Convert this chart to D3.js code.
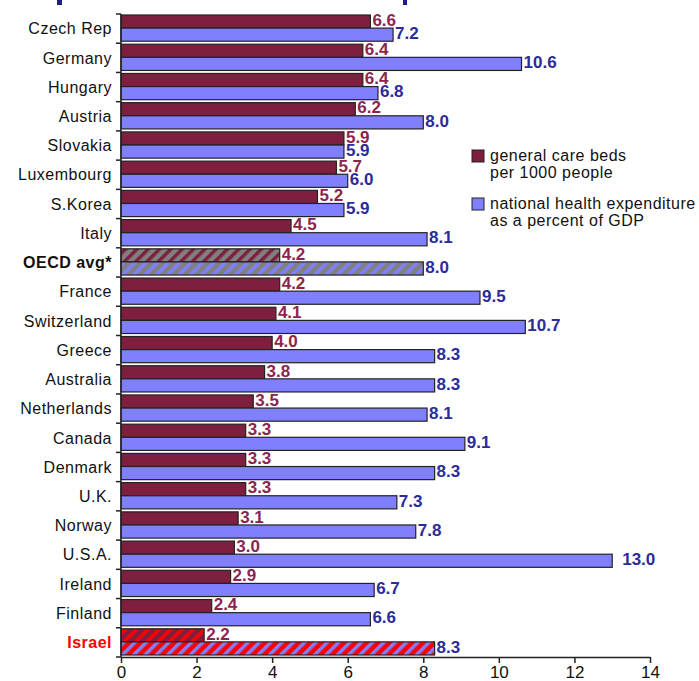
<!DOCTYPE html>
<html>
<head>
<meta charset="utf-8">
<script src="https://cdn.jsdelivr.net/npm/d3@7"></script>
<style>
  body { margin: 0; background: #fff; }
  svg { display: block; }
  .cat { font-family: "Liberation Sans", Arial, sans-serif; font-size: 16px; letter-spacing: 0.5px; fill: #111; }
  .val { font-family: "Liberation Sans Narrow", "Arial Narrow", sans-serif; font-weight: bold; font-size: 17px; }
  .legend { font-family: "Liberation Sans", Arial, sans-serif; font-size: 16px; letter-spacing: 0.5px; fill: #111; }
  .x-axis text { font-family: "Liberation Sans Narrow", "Arial Narrow", sans-serif; font-size: 17px; fill: #111; }
</style>
</head>
<body>
<svg></svg>
<script>
var width = 699;
var height = 681;

var countries = ["Czech Rep", "Germany", "Hungary", "Austria", "Slovakia", "Luxembourg",
  "S.Korea", "Italy", "OECD avg*", "France", "Switzerland", "Greece", "Australia",
  "Netherlands", "Canada", "Denmark", "U.K.", "Norway", "U.S.A.", "Ireland", "Finland", "Israel"];
var beds = [6.6, 6.4, 6.4, 6.2, 5.9, 5.7, 5.2, 4.5, 4.2, 4.2, 4.1, 4.0, 3.8, 3.5, 3.3, 3.3,
  3.3, 3.1, 3.0, 2.9, 2.4, 2.2];
var gdp = [7.2, 10.6, 6.8, 8.0, 5.9, 6.0, 5.9, 8.1, 8.0, 9.5, 10.7, 8.3, 8.3, 8.1, 9.1, 8.3,
  7.3, 7.8, 13.0, 6.7, 6.6, 8.3];
var xTicks = [0, 2, 4, 6, 8, 10, 12, 14];
var legendLabels = [["general care beds", "per 1000 people"],
  ["national health expenditure", "as a percent of GDP"]];

var padding = { top: 14, right: 49, bottom: 24, left: 121 };

var svg = d3.select("svg").attr("width", width).attr("height", height);

var rows = countries.map(function(c, i) {
  return { name: c, beds: beds[i], gdp: gdp[i] };
});

var xScale = d3.scaleLinear()
  .domain([0, 14])
  .range([padding.left, width - padding.right]);

var yScale = d3.scaleBand()
  .domain(countries)
  .range([padding.top, height - padding.bottom]);

var inner = d3.scaleBand()
  .domain(["beds", "gdp"])
  .range([1, yScale.bandwidth() - 2]);

var colors = { beds: "#7f1f3f", gdp: "#8080ff" };
var labelColors = { beds: "#8b2550", gdp: "#2b2b99" };

// hatch patterns for OECD avg and Israel
var defs = svg.append("defs");
function hatch(id, bg, stripe) {
  var p = defs.append("pattern")
    .attr("id", id)
    .attr("patternUnits", "userSpaceOnUse")
    .attr("width", 8)
    .attr("height", 8)
    .attr("patternTransform", "rotate(45)");
  p.append("rect").attr("width", 8).attr("height", 8).attr("fill", bg);
  p.append("rect").attr("width", 3.5).attr("height", 8).attr("fill", stripe);
}
hatch("oecd-beds", "#808080", "#7f1f3f");
hatch("oecd-gdp", "#808080", "#8080ff");
hatch("isr-beds", "#7f1f3f", "#ff0000");
hatch("isr-gdp", "#ff0000", "#8080ff");

function fillFor(d, key) {
  if (d.name === "OECD avg*") return "url(#oecd-" + key + ")";
  if (d.name === "Israel") return "url(#isr-" + key + ")";
  return colors[key];
}

// remnants of the cropped title
svg.append("rect").attr("x", 57).attr("y", 0).attr("width", 5).attr("height", 5).attr("fill", "#1e1e80");
svg.append("rect").attr("x", 403).attr("y", 0).attr("width", 4).attr("height", 5).attr("fill", "#1e1e80");

var groups = svg.selectAll("g.row")
  .data(rows)
  .enter()
  .append("g")
  .attr("class", "row")
  .attr("transform", d => "translate(0," + yScale(d.name) + ")");

["beds", "gdp"].forEach(function(key) {
  groups.append("rect")
    .attr("x", xScale(0))
    .attr("y", inner(key))
    .attr("width", d => xScale(d[key]) - xScale(0))
    .attr("height", inner.bandwidth())
    .attr("fill", d => fillFor(d, key))
    .attr("stroke", "#222")
    .attr("stroke-width", 1.2);

  groups.append("text")
    .attr("class", "val")
    .attr("x", d => xScale(d[key]) + (d[key] >= 13 ? 10 : 2))
    .attr("y", inner(key) + inner.bandwidth() / 2)
    .attr("dy", "0.25em")
    .attr("fill", labelColors[key])
    .text(d => d[key].toFixed(1));
});

// category labels
groups.append("text")
  .attr("class", "cat")
  .attr("x", padding.left - 9)
  .attr("y", yScale.bandwidth() / 2)
  .attr("dy", "0.36em")
  .attr("text-anchor", "end")
  .style("font-weight", d => (d.name === "OECD avg*" || d.name === "Israel") ? "bold" : null)
  .style("fill", d => d.name === "Israel" ? "#ff0000" : null)
  .text(d => d.name);

// y axis with ticks between categories
var yAxis = svg.append("g").attr("class", "y-axis");
yAxis.append("line")
  .attr("x1", xScale(0)).attr("x2", xScale(0))
  .attr("y1", padding.top).attr("y2", height - padding.bottom)
  .attr("stroke", "#222").attr("stroke-width", 1.5);
yAxis.selectAll("line.tick")
  .data(countries.map(c => yScale(c)).concat([height - padding.bottom]))
  .enter()
  .append("line")
  .attr("class", "tick")
  .attr("x1", xScale(0) - 5).attr("x2", xScale(0))
  .attr("y1", d => d).attr("y2", d => d)
  .attr("stroke", "#222").attr("stroke-width", 1.5);

// x axis
var xAxis = svg.append("g")
  .attr("class", "x-axis")
  .attr("transform", "translate(0," + (height - padding.bottom) + ")")
  .call(d3.axisBottom(xScale).tickValues(xTicks).tickSize(6).tickSizeOuter(0).tickPadding(3));
xAxis.select(".domain").attr("stroke", "#222").attr("stroke-width", 1.5);
xAxis.selectAll(".tick line").attr("stroke", "#222").attr("stroke-width", 1.5);

// legend
var legend = svg.selectAll("g.legend")
  .data(["beds", "gdp"])
  .enter()
  .append("g")
  .attr("class", "legend")
  .attr("transform", (d, i) => "translate(472," + (150 + i * 48) + ")");
legend.append("rect")
  .attr("width", 12).attr("height", 12)
  .attr("fill", d => colors[d])
  .attr("stroke", "#222");
legend.each(function(d, i) {
  var t = d3.select(this).append("text")
    .attr("class", "legend")
    .attr("x", 18)
    .attr("y", 11);
  legendLabels[i].forEach(function(line, j) {
    t.append("tspan").attr("x", 18).attr("dy", j === 0 ? 0 : 17).text(line);
  });
});
</script>
</body>
</html>
